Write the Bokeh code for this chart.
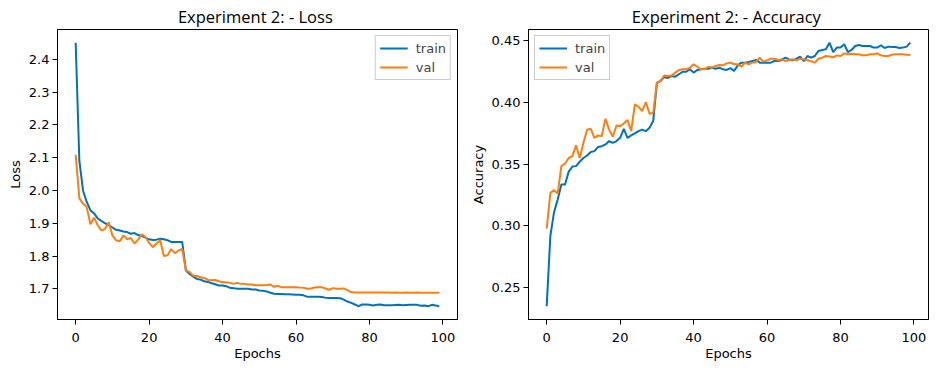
from bokeh.plotting import figure
from bokeh.layouts import row
from bokeh.models import Range1d, FixedTicker, NumeralTickFormatter
from bokeh.embed import file_html
from bokeh.resources import INLINE

epochs = list(range(100))

train_loss = [2.451, 2.09, 2.00, 1.965, 1.94, 1.93, 1.915, 1.907, 1.900, 1.894,
              1.887, 1.880, 1.878, 1.875, 1.873, 1.868, 1.870, 1.864, 1.861, 1.856,
              1.851, 1.849, 1.850, 1.853, 1.851, 1.848, 1.843, 1.843, 1.843, 1.843,
              1.756, 1.745, 1.737, 1.730, 1.728, 1.723, 1.721, 1.717, 1.714, 1.710,
              1.710, 1.708, 1.703, 1.702, 1.700, 1.700, 1.700, 1.700, 1.698, 1.698,
              1.695, 1.694, 1.692, 1.688, 1.685, 1.684, 1.684, 1.6835, 1.683, 1.6825,
              1.682, 1.6815, 1.680, 1.676, 1.676, 1.676, 1.676, 1.675, 1.673, 1.672,
              1.672, 1.672, 1.671, 1.667, 1.661, 1.657, 1.652, 1.647, 1.652, 1.652,
              1.651, 1.649, 1.651, 1.652, 1.650, 1.650, 1.650, 1.6505, 1.651, 1.650,
              1.6505, 1.651, 1.651, 1.651, 1.648, 1.649, 1.647, 1.651, 1.649, 1.6465]

val_loss = [2.109, 1.976, 1.960, 1.950, 1.897, 1.917, 1.894, 1.878, 1.883, 1.903,
            1.863, 1.848, 1.845, 1.863, 1.851, 1.855, 1.838, 1.850, 1.866, 1.858,
            1.840, 1.827, 1.838, 1.848, 1.800, 1.802, 1.821, 1.809, 1.817, 1.822,
            1.756, 1.751, 1.740, 1.739, 1.735, 1.733, 1.727, 1.726, 1.727, 1.723,
            1.720, 1.720, 1.718, 1.715, 1.718, 1.715, 1.715, 1.713, 1.713, 1.711,
            1.711, 1.711, 1.7115, 1.713, 1.706, 1.709, 1.705, 1.705, 1.705, 1.705,
            1.705, 1.704, 1.7035, 1.700, 1.701, 1.704, 1.705, 1.705, 1.701, 1.697,
            1.702, 1.700, 1.700, 1.701, 1.696, 1.690, 1.689, 1.689, 1.6885, 1.689,
            1.6885, 1.689, 1.689, 1.6885, 1.689, 1.6885, 1.688, 1.6885, 1.688, 1.688,
            1.6885, 1.688, 1.688, 1.6885, 1.688, 1.688, 1.688, 1.688, 1.688, 1.688]

train_acc = [0.2346, 0.2915, 0.311, 0.3213, 0.3335, 0.3335, 0.344, 0.348, 0.3484, 0.352,
             0.355, 0.357, 0.3598, 0.3606, 0.364, 0.3646, 0.366, 0.3687, 0.3673, 0.3687,
             0.3714, 0.3787, 0.3714, 0.3733, 0.375, 0.3768, 0.378, 0.3768, 0.3795, 0.385,
             0.416, 0.4175, 0.4207, 0.420, 0.4215, 0.421, 0.423, 0.425, 0.425, 0.427,
             0.4243, 0.4264, 0.427, 0.4275, 0.4275, 0.4283, 0.4275, 0.4283, 0.427, 0.4265,
             0.428, 0.4256, 0.430, 0.4324, 0.4324, 0.433, 0.4337, 0.4346, 0.4324, 0.4324,
             0.4324, 0.4324, 0.4337, 0.4337, 0.4346, 0.4364, 0.435, 0.4343, 0.4356, 0.4373,
             0.4337, 0.4378, 0.4364, 0.4378, 0.4419, 0.4427, 0.4432, 0.4486, 0.441, 0.4446,
             0.4446, 0.4473, 0.441, 0.4427, 0.4459, 0.4467, 0.4459, 0.4459, 0.4459, 0.4446,
             0.4446, 0.4465, 0.4443, 0.4454, 0.4451, 0.4451, 0.4443, 0.4446, 0.4454, 0.4486]

val_acc = [0.2977, 0.3267, 0.3289, 0.3262, 0.3484, 0.3505, 0.355, 0.3565, 0.3652, 0.355,
           0.3673, 0.378, 0.3787, 0.3714, 0.3733, 0.3728, 0.3869, 0.378, 0.3722, 0.3814,
           0.3809, 0.383, 0.3858, 0.3768, 0.3985, 0.3966, 0.3931, 0.4004, 0.3909, 0.3917,
           0.416, 0.4175, 0.422, 0.4215, 0.422, 0.4243, 0.4264, 0.427, 0.427, 0.4283,
           0.431, 0.4291, 0.427, 0.427, 0.4291, 0.4283, 0.4297, 0.4305, 0.4302, 0.4318,
           0.4324, 0.4313, 0.431, 0.4291, 0.4324, 0.431, 0.4324, 0.433, 0.4364, 0.4332,
           0.4343, 0.4356, 0.4356, 0.4346, 0.4351, 0.4337, 0.4346, 0.4351, 0.4343, 0.4356,
           0.4351, 0.4343, 0.4335, 0.4324, 0.4356, 0.4364, 0.4378, 0.4373, 0.4367, 0.4383,
           0.4378, 0.440, 0.4392, 0.4397, 0.4392, 0.4392, 0.4383, 0.4383, 0.4392, 0.4392,
           0.440, 0.4383, 0.4378, 0.4378, 0.4389, 0.4392, 0.4392, 0.4392, 0.4389, 0.4386]

x_ticks = [0, 20, 40, 60, 80, 100]
loss_ticks = [1.7, 1.8, 1.9, 2.0, 2.1, 2.2, 2.3, 2.4]
acc_ticks = [0.25, 0.30, 0.35, 0.40, 0.45]

BLUE = "#0072bd"
ORANGE = "#ff7f0e"
TICK_FONT = "DejaVu Sans"


def padded(vals):
    lo, hi = min(vals), max(vals)
    m = (hi - lo) * 0.05
    return Range1d(lo - m, hi + m)


def make(title, ylabel, s1, s2, ticks, fmt, loc, bl):
    p = figure(frame_width=400, frame_height=290, output_backend="svg",
               toolbar_location=None, min_border_left=bl, min_border_right=8,
               min_border_top=0, min_border_bottom=30)
    p.x_range = padded(epochs)
    p.y_range = padded(s1 + s2)
    p.line(epochs, s1, color=BLUE, line_width=2, legend_label="train")
    p.line(epochs, s2, color=ORANGE, line_width=2, legend_label="val")
    p.title.text = title
    p.title.align = "center"
    p.title.text_font = "Open Sans"
    p.title.text_font_size = "16.5px"
    p.title.text_font_style = "normal"
    p.title.text_color = "black"
    p.title.standoff = 4
    p.xaxis.ticker = FixedTicker(ticks=x_ticks)
    p.yaxis.ticker = FixedTicker(ticks=ticks)
    p.yaxis.formatter = NumeralTickFormatter(format=fmt)
    p.xaxis.axis_label = "Epochs"
    p.yaxis.axis_label = ylabel
    for ax in (p.xaxis, p.yaxis):
        ax.axis_label_text_font = TICK_FONT
        ax.axis_label_text_font_size = "13px"
        ax.axis_label_text_font_style = "normal"
        ax.axis_label_text_color = "black"
        ax.major_label_text_font = TICK_FONT
        ax.major_label_text_font_size = "13px"
        ax.major_label_text_color = "black"
        ax.minor_tick_line_color = None
        ax.major_tick_in = 0
        ax.major_tick_out = 5
        ax.major_tick_line_color = "black"
        ax.axis_line_color = "black"
        ax.major_label_standoff = 3
        ax.axis_label_standoff = 3
    p.xaxis.major_label_standoff = 8
    p.xaxis.axis_label_standoff = 1
    p.xgrid.visible = False
    p.ygrid.visible = False
    p.outline_line_color = "black"
    p.outline_line_alpha = 1
    p.legend.location = loc
    p.legend.border_line_color = "#cccccc"
    p.legend.border_line_alpha = 1
    p.legend.background_fill_alpha = 0.8
    p.legend.label_text_font = TICK_FONT
    p.legend.label_text_font_size = "13px"
    p.legend.glyph_width = 28
    p.legend.glyph_height = 16
    p.legend.label_standoff = 8
    p.legend.padding = 4
    p.legend.spacing = 3
    p.legend.margin = 6
    return p


p1 = make("Experiment 2:  - Loss", "Loss", train_loss, val_loss, loss_ticks, "0.0", "top_right", 57)
p2 = make("Experiment 2:  - Accuracy", "Accuracy", train_acc, val_acc, acc_ticks, "0.00", "top_left", 63)

layout = row(p1, p2)
open("out.html", "w").write(file_html(layout, INLINE))
